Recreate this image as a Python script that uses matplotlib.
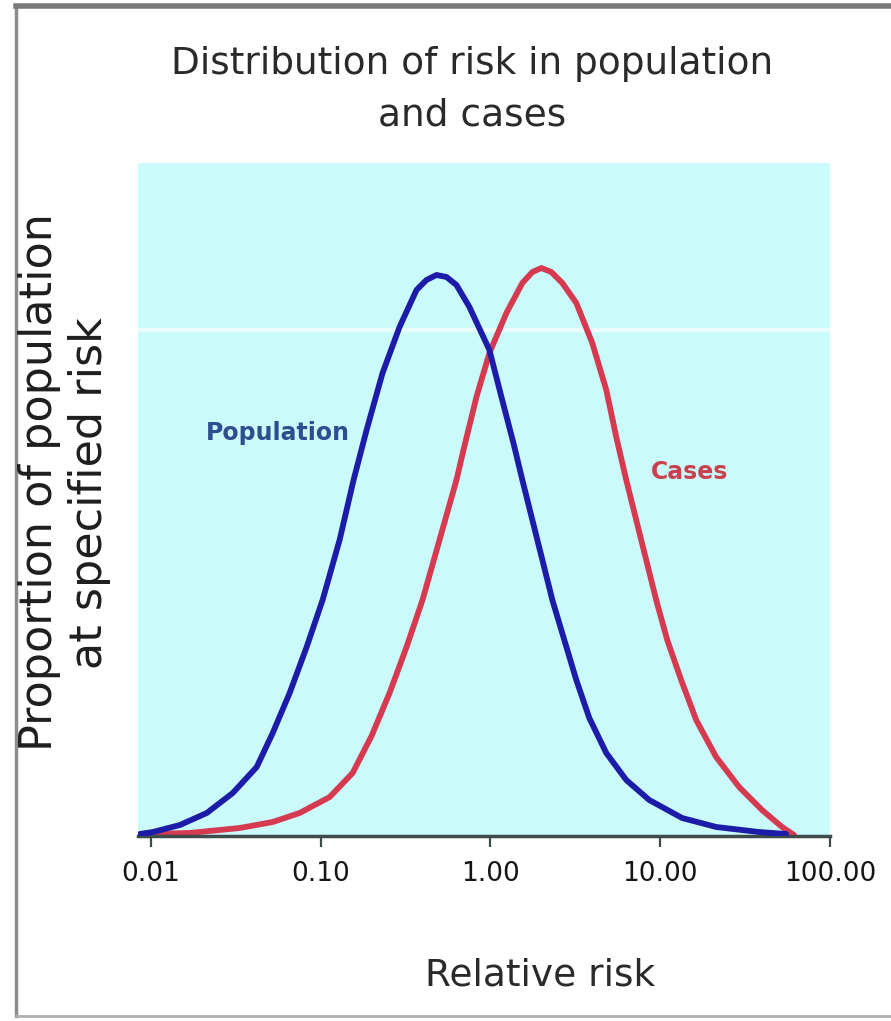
import matplotlib
matplotlib.use("Agg")
import matplotlib.pyplot as plt
from matplotlib.lines import Line2D

# -----data-----

tick_values = [0.01, 0.1, 1, 10, 100]
tick_labels = ["0.01", "0.10", "1.00", "10.00", "100.00"]

pop_rr = [0.00862, 0.01027, 0.01481, 0.02135, 0.03037, 0.04202, 0.0522, 0.06569,
          0.0827, 0.1027, 0.1293, 0.1563, 0.1865, 0.2316, 0.2915, 0.367, 0.4202,
          0.4813, 0.551, 0.631, 0.7522, 0.9866, 1.145, 1.366, 1.542, 1.766, 2.023,
          2.316, 2.724, 3.205, 3.823, 4.813, 6.31, 8.617, 13.47, 21.35, 38.23, 55.1]
pop_prop = [0.003, 0.0059, 0.0163, 0.0342, 0.0639, 0.1025, 0.153, 0.2125,
            0.2808, 0.3507, 0.4398, 0.529, 0.6033, 0.688, 0.7563, 0.8113, 0.8262,
            0.8336, 0.8306, 0.8187, 0.786, 0.7221, 0.6582, 0.584, 0.529, 0.4695, 0.4101,
            0.3507, 0.2912, 0.2318, 0.1753, 0.1233, 0.0832, 0.0535, 0.0267, 0.0134, 0.0059, 0.003]

case_rr = [0.00987, 0.01696, 0.03339, 0.0522, 0.07523, 0.113, 0.1543, 0.1995,
           0.2546, 0.3205, 0.3981, 0.5012, 0.631, 0.6938, 0.8273, 0.9866, 1.242,
           1.542, 1.766, 1.995, 2.285, 2.651, 3.205, 3.981, 4.813, 5.51, 6.31,
           7.225, 8.272, 9.473, 11.0, 13.29, 16.29, 21.35, 29.15, 39.81, 52.2, 61.4]
case_prop = [0.003, 0.0045, 0.0119, 0.0208, 0.0342, 0.0579, 0.0936, 0.1486,
             0.2125, 0.2808, 0.3507, 0.4398, 0.529, 0.5735, 0.6523, 0.7177, 0.7771,
             0.8217, 0.838, 0.844, 0.838, 0.8217, 0.792, 0.7325, 0.6627, 0.5929, 0.529,
             0.4695, 0.4101, 0.3507, 0.2912, 0.2318, 0.1724, 0.1174, 0.0728, 0.0386, 0.0134, 0.0015]

W, H = 891, 1021

fig = plt.figure(figsize=(W / 100, H / 100), dpi=100)
fig.patch.set_facecolor("white")

# axes box in pixels: left 138, right 830, top 163, bottom 836
ax = fig.add_axes([138 / W, 1 - 836 / H, (830 - 138) / W, (836 - 163) / H])
ax.set_facecolor("#cbfafa")

ax.axhline(0.752, color="white", lw=3, alpha=0.65, zorder=1)

ax.plot(pop_rr, pop_prop, color="#1c1ca8", lw=4.2, solid_capstyle="round",
        solid_joinstyle="round", zorder=3)
ax.plot(case_rr, case_prop, color="#d63a50", lw=4.2, solid_capstyle="round",
        solid_joinstyle="round", zorder=2)

ax.set_xscale("log")
ax.set_xlim(0.0084, 100)
ax.set_ylim(0, 1)
ax.set_xticks(tick_values)
ax.set_xticklabels(tick_labels)
ax.minorticks_off()
ax.set_yticks([])

for side in ["left", "right", "top"]:
    ax.spines[side].set_visible(False)
ax.spines["bottom"].set_color("#3d4b4b")
ax.spines["bottom"].set_linewidth(2.5)
ax.tick_params(axis="x", direction="out", length=8, width=1.6, color="#3d4b4b",
               labelsize=19, labelcolor="#151515", pad=10)

ax.text(0.0558, 0.599, "Population", color="#2d4f8f", fontsize=17,
        fontweight="bold", ha="center", va="center")
ax.text(14.8, 0.541, "Cases", color="#c9404e", fontsize=17,
        fontweight="bold", ha="center", va="center")

fig.text(472 / W, 1 - 90 / H, "Distribution of risk in population\nand cases",
         ha="center", va="center", fontsize=27, color="#2a2a2a", linespacing=1.55)
fig.text(540 / W, 1 - 975 / H, "Relative risk", ha="center", va="center",
         fontsize=27, color="#2a2a2a")
fig.text(40 / W, 1 - 482 / H, "Proportion of population", rotation=90,
         ha="center", va="center", fontsize=32, color="#1e1e1e")
fig.text(90 / W, 1 - 493 / H, "at specified risk", rotation=90,
         ha="center", va="center", fontsize=32, color="#1e1e1e")

# frame of the picture
fig.add_artist(Line2D([16 / W, 16 / W], [1 - 1016 / H, 1 - 6 / H],
                      transform=fig.transFigure, color="#8c8c8c", lw=2.5))
fig.add_artist(Line2D([16 / W, 1.0], [1 - 6 / H, 1 - 6 / H],
                      transform=fig.transFigure, color="#7a7a7a", lw=4))
fig.add_artist(Line2D([16 / W, 1.0], [1 - 1016 / H, 1 - 1016 / H],
                      transform=fig.transFigure, color="#b0b0b0", lw=2))

fig.savefig("out.png", dpi=100)
